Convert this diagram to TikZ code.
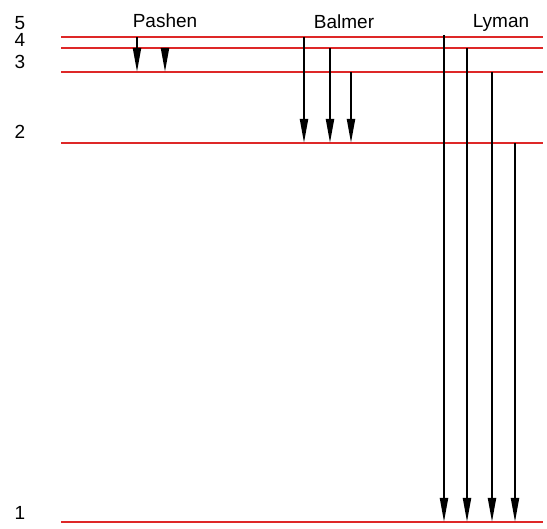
\documentclass[tikz,border=0pt]{standalone}
\usepackage{fontspec}
\setmainfont{Liberation Sans}
\usepackage{tikz}
\usetikzlibrary{arrows.meta}

\definecolor{levelred}{RGB}{222,40,40}

\tikzset{
    level/.style={levelred, line width=1.1pt},
    trans/.style={line width=2pt, -{Triangle[length=24pt, width=8pt]}},
    lbl/.style={font=\fontsize{19}{22}\selectfont, inner sep=0pt},
    num/.style={lbl, text height=13.5pt, text depth=0pt}
}

\begin{document}
\begin{tikzpicture}[x=1pt, y=-1pt]
    \useasboundingbox (0,0) rectangle (547,529);

    % energy levels with their numbers
    \foreach \n/\y/\ly in {5/37/22.5, 4/48/40, 3/72/62, 2/143/132, 1/522/513} {
        \coordinate (L\n w) at (61,\y);
        \coordinate (L\n e) at (543,\y);
        \draw[level] (L\n w) -- (L\n e);
        \node[num] (n\n) at (20,\ly) {\n};
    }

    % series names
    \node[lbl] (pashen) at (165,21) {Pashen};
    \node[lbl] (balmer) at (344,22) {Balmer};
    \node[lbl] (lyman)  at (501,23) {Lyman};

    % transitions: x / from / to
    \foreach \x/\a/\b [count=\i] in {137/37/72, 165/48/72,
            304/37/143, 330/48/143, 351/72/143,
            444/35/522, 467/48/522, 492/72/522, 515/143/522} {
        \coordinate (t\i) at (\x,\a);
        \coordinate (b\i) at (\x,\b);
        \draw[trans] (t\i) -- (b\i);
    }
\end{tikzpicture}
\end{document}
